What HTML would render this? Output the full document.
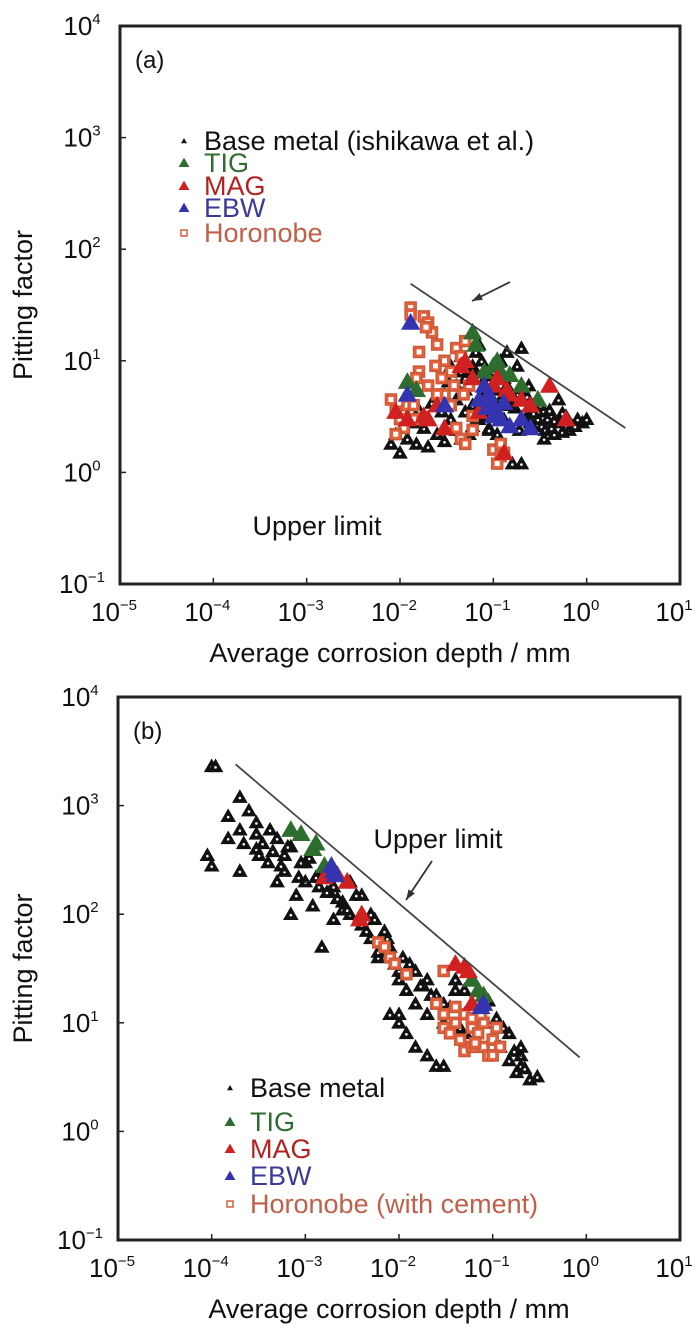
<!DOCTYPE html>
<html><head><meta charset="utf-8"><style>
html,body{margin:0;padding:0;background:#fff;}
svg{display:block;font-family:"Liberation Sans",Arial,sans-serif;}
</style></head><body>
<svg id="chart" width="700" height="1340" viewBox="0 0 700 1340"></svg>
<script>
// ---------- Panel (a) data ----------
const aBaseX=[0.008,0.009,0.01,0.012,0.015,0.018,0.02,0.025,0.03,0.035,0.04,0.045,0.05,0.055,0.06,0.065,0.07,0.08,0.09,0.1,0.11,0.12,0.13,0.15,0.17,0.19,0.2,0.22,0.25,0.28,0.3,0.33,0.36,0.4,0.45,0.5,0.55,0.6,0.7,0.8,0.9,1.0,0.05,0.06,0.07,0.08,0.1,0.12,0.14,0.03,0.04,0.02,0.025,0.035,0.045,0.09,0.11,0.16,0.18,0.24,0.3,0.35,0.5,0.65,0.015,0.012,0.2,0.18,0.08,0.06,0.04,0.05,0.07,0.09,0.11,0.14,0.17,0.21,0.26,0.32,0.38,0.45,0.55,0.75,0.028,0.033,0.045,0.06,0.075,0.085,0.13,0.15,0.23,0.27,0.42,0.016,0.022];
const aBaseY=[1.8,2.2,1.5,2.0,1.8,2.5,1.7,2.2,1.9,3.0,2.4,2.0,3.5,2.2,4.0,12,3.0,5.0,2.5,3.5,2.2,4.5,3.0,2.6,3.8,2.4,13,3.0,2.8,4.2,3.0,2.6,2.4,3.6,2.2,2.8,2.3,3.2,2.6,3.0,2.8,3.0,7,9,14,6,8,10,12,5,6,3,4,9,8,2.4,1.6,1.2,5,6,3.5,2.0,4.5,2.4,2.8,3.2,1.2,9,3.2,2.6,4.5,5.5,7,6.5,5.5,6,4.5,5,3.6,4,3,2.9,3.4,2.6,3.5,6.5,11,8,10,4,7,4,4.8,3.4,2.5,3.6,4.2];
const aTigX=[0.06,0.012,0.015,0.1,0.12,0.15,0.2,0.3,0.08,0.065,0.11];
const aTigY=[18,6.5,5.5,9,8,7.5,6,4.5,8,14,10];
const aMagX=[0.05,0.1,0.15,0.2,0.4,0.6,0.02,0.03,0.009,0.012,0.06,0.08,0.25,0.13,0.045,0.025,0.11,0.14,0.07,0.018];
const aMagY=[10,6,5,4.5,6,3,3,2.5,3.5,3,7,4,4,1.5,9,4,7,5.5,3.5,3.2];
const aEbwX=[0.013,0.08,0.1,0.12,0.2,0.25,0.03,0.012,0.09,0.11,0.15,0.07,0.085,0.1,0.13];
const aEbwY=[22,6,4,3,3,2.5,4,5,5,3.5,2.6,4.5,3.8,3.2,4.2];
const aHorX=[0.013,0.018,0.02,0.022,0.016,0.016,0.025,0.03,0.035,0.04,0.05,0.045,0.055,0.008,0.009,0.01,0.011,0.012,0.009,0.03,0.035,0.04,0.045,0.06,0.05,0.1,0.12,0.11,0.13,0.12,0.02,0.025,0.015,0.014,0.06,0.013,0.019,0.028,0.038,0.048,0.014,0.024];
const aHorY=[30,25,22,18,12,8,14,10,8,13,15,11,6,4.5,3.5,3,2.5,4,2.2,5,4,2.5,2,3.2,1.8,1.6,1.4,1.2,1.5,1.8,6,5,7,3,2.4,26,20,7,6,5,4,9];
// ---------- Panel (b) data ----------
const bBaseX=[1e-4,1.1e-4,9e-5,1e-4,2e-4,1.5e-4,2e-4,3e-4,3e-4,2e-4,4e-4,5e-4,6e-4,5e-4,8e-4,7e-4,1e-3,1.2e-3,1.5e-3,2e-3,2.5e-3,3e-3,4e-3,5e-3,4e-3,6e-3,8e-3,1e-2,1.2e-2,8e-3,1e-2,1.2e-2,1.5e-2,2e-2,2e-2,2.5e-2,3e-2,3e-2,4e-2,5e-2,6e-2,8e-2,0.1,0.15,0.2,0.25,0.2,0.12,3e-4,2.5e-4,1.5e-4,6e-4,1e-3,1.5e-3,2e-3,3e-3,5e-3,7e-3,1e-2,1.5e-2,2e-2,0.03,0.05,0.07,0.15,0.18,0.3,0.01,0.015,3.5e-4,4.5e-4,7e-4,9e-4,1.3e-3,1.8e-3,2.5e-3,6e-3,9e-3,0.018,0.025,0.04,0.09,0.2,0.22,0.13,2.2e-4,3.2e-4,4.2e-4,5.5e-4,6.5e-4,8.5e-4,1.1e-3,1.4e-3,1.7e-3,2.2e-3,2.8e-3,3.5e-3,4.5e-3,5.5e-3,6.5e-3,7.5e-3,1.1e-2,1.3e-2,1.7e-2,0.022,0.035,0.045,0.11,0.17];
const bBaseY=[2300,2300,350,280,1200,800,600,700,400,250,300,500,350,200,150,100,200,120,50,180,130,100,80,60,150,40,50,30,20,12,10,8,15,25,5,4,4,15,20,12,8,10,7,8,5,3,4,6,550,900,500,250,300,250,90,200,100,70,25,30,12,10,20,12,4.5,3.5,3.2,12,6,450,380,420,300,220,160,110,45,35,22,18,25,16,6,3.8,9,450,350,600,280,420,220,330,180,160,140,110,150,70,90,55,60,40,35,22,18,14,9,11,5.5];
const bTigX=[7e-4,9e-4,1.3e-3,1.2e-3,1.6e-3,0.06,0.07,0.08];
const bTigY=[600,550,450,400,280,25,20,18];
const bMagX=[1.6e-3,2.8e-3,2.2e-3,4e-3,3.8e-3,0.04,0.05,0.055,0.06];
const bMagY=[220,200,230,100,90,35,33,30,15];
const bEbwX=[1.9e-3,2e-3,2.1e-3,0.08,0.075];
const bEbwY=[280,250,230,15,14];
const bHorX=[6e-3,7e-3,8e-3,9e-3,0.012,0.03,0.025,0.03,0.03,0.04,0.045,0.05,0.06,0.07,0.08,0.09,0.1,0.12,0.11,0.05,0.04,0.06,0.08,0.1,0.06,0.035,0.065,0.075];
const bHorY=[55,50,40,35,28,30,15,12,9,10,7,5.5,9,8,6,5,7,6,9,12,14,11,10,5,6,8,6.5,12];
const decadesX=[-5,-4,-3,-2,-1,0,1];
const decadesY=[-1,0,1,2,3,4];

const NS="http://www.w3.org/2000/svg";
const svg=document.getElementById('chart');
function mk(tag,attrs,parent){const e=document.createElementNS(NS,tag);for(const k in attrs)e.setAttribute(k,attrs[k]);(parent||svg).appendChild(e);return e;}

function panel(P){
  const g=mk('g',{});
  
  
  const sx=v=>P.x0+(Math.log10(v)+5)/6*(P.x1-P.x0);
  const sy=v=>P.y1-(Math.log10(v)+1)/5*(P.y1-P.y0);
  function tri(x,y,s,col,nm,dot){
    const t=mk('polygon',{points:`${x},${y-s*0.6} ${x-s*0.6},${y+s*0.45} ${x+s*0.6},${y+s*0.45}`,fill:col},g);
    
    
    if(dot){mk('circle',{cx:x,cy:y+1,r:1.3,fill:'#fff'},g);}
  }
  function sq(x,y,nm){
    const r=mk('rect',{x:x-5.5,y:y-5.5,width:11,height:11,fill:'#e8603a',stroke:'#c85a3a','stroke-width':1.5},g);
    
    
    mk('rect',{x:x-2.5,y:y-2.5,width:5,height:5,fill:'#fff'},g);
  }
  P.base[0].forEach((v,i)=>tri(sx(v),sy(P.base[1][i]),13,'#111','base-metal-point',true));
  P.hor[0].forEach((v,i)=>sq(sx(v),sy(P.hor[1][i]),'horonobe-point'));
  P.tig[0].forEach((v,i)=>tri(sx(v),sy(P.tig[1][i]),16,'#2d6e2e','tig-point',false));
  P.mag[0].forEach((v,i)=>tri(sx(v),sy(P.mag[1][i]),16,'#d02020','mag-point',false));
  P.ebw[0].forEach((v,i)=>tri(sx(v),sy(P.ebw[1][i]),16,'#3434b0','ebw-point',false));
  const ul=mk('line',{x1:sx(P.ul[0]),y1:sy(P.ul[1]),x2:sx(P.ul[2]),y2:sy(P.ul[3]),stroke:'#444','stroke-width':1.8},g);
  
  
  const ar=mk('line',{x1:P.arrow[0],y1:P.arrow[1],x2:P.arrow[2],y2:P.arrow[3],stroke:'#333','stroke-width':1.8},g);
  
  
  const ang=Math.atan2(P.arrow[3]-P.arrow[1],P.arrow[2]-P.arrow[0]);
  const hx=P.arrow[2],hy=P.arrow[3];
  mk('polygon',{points:`${hx},${hy} ${hx-11*Math.cos(ang-0.35)},${hy-11*Math.sin(ang-0.35)} ${hx-11*Math.cos(ang+0.35)},${hy-11*Math.sin(ang+0.35)}`,fill:'#333'},g);
  const ut=mk('text',{x:P.ulText[0],y:P.ulText[1],'font-size':27,'text-anchor':'middle',fill:'#111'},g);
  ut.textContent='Upper limit';
  
  
  const fr=mk('rect',{x:P.x0,y:P.y0,width:P.x1-P.x0,height:P.y1-P.y0,fill:'none',stroke:'#222','stroke-width':3},g);
  
  
  decadesX.forEach(d=>{
    const x=P.x0+(d+5)/6*(P.x1-P.x0);
    mk('line',{x1:x,y1:P.y1,x2:x,y2:P.y1-6,stroke:'#222','stroke-width':1.5},g);
    const t=mk('text',{x:x-6,y:P.y1+37,'font-size':26,'text-anchor':'middle',fill:'#111'},g);
    
    
    t.textContent='10';
    const s=mk('tspan',{dy:-11,'font-size':15},t);s.textContent=d<0?'\u2212'+(-d):String(d);
  });
  decadesY.forEach(d=>{
    const y=P.y1-(d+1)/5*(P.y1-P.y0);
    mk('line',{x1:P.x0,y1:y,x2:P.x0+6,y2:y,stroke:'#222','stroke-width':1.5},g);
    const t=mk('text',{x:P.x0-38,y:y+9,'font-size':26,'text-anchor':'middle',fill:'#111'},g);
    
    
    t.textContent='10';
    const s=mk('tspan',{dy:-11,'font-size':15},t);s.textContent=d<0?'\u2212'+(-d):String(d);
  });
  const xt=mk('text',{x:(P.x0+P.x1)/2-10,y:P.xTitleY,'font-size':27,'text-anchor':'middle',fill:'#111'},g);
  xt.textContent='Average corrosion depth / mm';
  
  
  const yc=(P.y0+P.y1)/2;
  const yt=mk('text',{x:32,y:yc,'font-size':27,'text-anchor':'middle',fill:'#111',transform:`rotate(-90 32 ${yc})`},g);
  yt.textContent='Pitting factor';
  
  
  const pl=mk('text',{x:P.x0+15,y:P.y0+42,'font-size':24,fill:'#111'},g);
  pl.textContent=P.tag;
  
  
  const cols=['#111','#2d6e2e','#b42020','#3a3a9a','#c0604a'];
  P.legend.forEach((txt,i)=>{
    const y=P.legY[i];
    const mx=P.legX-20;
    if(i===4){mk('rect',{x:mx-3,y:y-12,width:6,height:6,fill:'#fff',stroke:'#d06040','stroke-width':1.5},g);}
    else{const s=i===0?5:9;mk('polygon',{points:`${mx},${y-9-s*0.6} ${mx-s*0.6},${y-9+s*0.45} ${mx+s*0.6},${y-9+s*0.45}`,fill:i===0?'#111':(i===1?'#2d6e2e':i===2?'#d02020':'#3434b0')},g);}
    const t=mk('text',{x:P.legX,y:y,'font-size':27,fill:cols[i]},g);
    t.textContent=txt;
    
    
  });
}

panel({name:'panel-a',tag:'(a)',x0:120,x1:680,y0:26,y1:584,
  base:[aBaseX,aBaseY],tig:[aTigX,aTigY],mag:[aMagX,aMagY],ebw:[aEbwX,aEbwY],hor:[aHorX,aHorY],
  ul:[0.013,49,2.6,2.5],arrow:[510,282,472,301],ulText:[317,535],xTitleY:662,
  legend:['Base metal (ishikawa et al.)','TIG','MAG','EBW','Horonobe'],legX:204,
  legY:[150,172,195,217,242]});
panel({name:'panel-b',tag:'(b)',x0:118,x1:680,y0:697,y1:1240,
  base:[bBaseX,bBaseY],tig:[bTigX,bTigY],mag:[bMagX,bMagY],ebw:[bEbwX,bEbwY],hor:[bHorX,bHorY],
  ul:[1.8e-4,2400,0.85,4.8],arrow:[432,861,406,900],ulText:[438,848],xTitleY:1318,
  legend:['Base metal','TIG','MAG','EBW','Horonobe (with cement)'],legX:250,
  legY:[1097,1131,1158,1185,1213]});
</script>
</body></html>
